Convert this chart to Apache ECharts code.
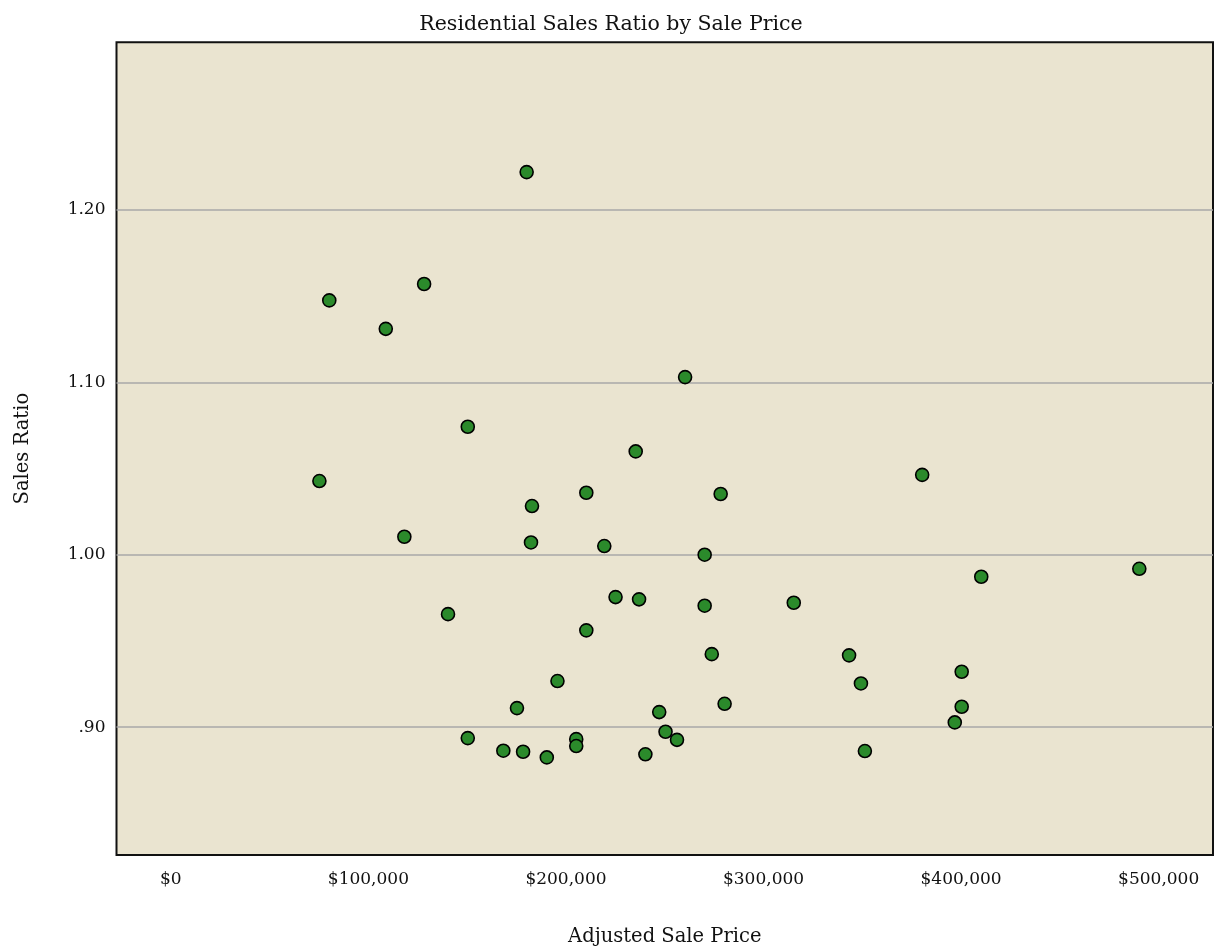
<!DOCTYPE html>
<html>
<head>
<meta charset="utf-8">
<script src="https://cdn.jsdelivr.net/npm/echarts@6/dist/echarts.min.js"></script>
<style>html,body{margin:0;padding:0;background:#fff;}#c{width:1216px;height:952px;}</style>
</head>
<body>
<div id="c"></div>
<script>
// Adjusted sale price (dollars)
const salePrice = [75200, 80200, 108800, 118200, 128200, 140300, 150300, 150300, 168300, 175200,
  178300, 180100, 182300, 182800, 190300, 195700, 205200, 205200, 210300, 210300,
  219400, 225100, 235300, 237000, 240200, 247200, 250400, 256200, 260300, 270200,
  270200, 273800, 278300, 280300, 315300, 343300, 349300, 351300, 380300, 396800,
  400300, 400300, 410200, 490200];
// Sales ratio
const salesRatio = [1.0427, 1.1475, 1.1310, 1.0104, 1.1570, 0.9655, 1.0742, 0.8936, 0.8863, 0.9110,
  0.8857, 1.2219, 1.0071, 1.0282, 0.8824, 0.9267, 0.8930, 0.8890, 1.0359, 0.9561,
  1.0050, 0.9754, 1.0599, 0.9741, 0.8842, 0.9087, 0.8973, 0.8926, 1.1030, 1.0000,
  0.9704, 0.9423, 1.0352, 0.9135, 0.9721, 0.9416, 0.9253, 0.8861, 1.0463, 0.9027,
  0.9321, 0.9118, 0.9872, 0.9918];
const xTicks = [0, 100000, 200000, 300000, 400000, 500000];
const yTicks = [0.9, 1.0, 1.1, 1.2];
const titleText = 'Residential Sales Ratio by Sale Price';
const xName = 'Adjusted Sale Price';
const yName = 'Sales Ratio';

const points = salePrice.map((p, i) => [p, salesRatio[i]]);
const FONT = 'DejaVu Serif';

const chart = echarts.init(document.getElementById('c'), null, {renderer: 'canvas'});
chart.setOption({
  animation: false,
  backgroundColor: '#ffffff',
  title: {
    text: titleText, left: 606, top: 9, textAlign: 'center',
    textStyle: {fontFamily: FONT, fontSize: 20.5, fontWeight: 'normal', color: '#111'}
  },
  grid: {
    left: 116.5, right: 3, top: 42.3, bottom: 97,
    show: true, backgroundColor: '#eae4d0', borderColor: '#111', borderWidth: 2
  },
  xAxis: {
    type: 'value', min: -27500, max: 527500,
    name: xName, nameLocation: 'middle', nameGap: 72,
    nameTextStyle: {fontFamily: FONT, fontSize: 19.5, color: '#111'},
    axisLine: {show: false},
    axisTick: {show: false, customValues: xTicks},
    splitLine: {show: false},
    axisLabel: {
      customValues: xTicks, margin: 16,
      fontFamily: FONT, fontSize: 17, color: '#111',
      formatter: v => '$' + Math.round(v).toLocaleString('en-US')
    }
  },
  yAxis: {
    type: 'value', min: 0.8258, max: 1.2972,
    name: yName, nameLocation: 'middle', nameGap: 84, nameRotate: 90,
    nameTextStyle: {fontFamily: FONT, fontSize: 19.5, color: '#111'},
    axisLine: {show: false},
    axisTick: {show: false, customValues: yTicks},
    splitLine: {show: true, lineStyle: {color: '#a9a9a9', width: 1.5}},
    axisLabel: {
      customValues: yTicks, margin: 11,
      fontFamily: FONT, fontSize: 17, color: '#111',
      formatter: v => v.toFixed(2).replace(/^0/, '')
    }
  },
  series: [{
    type: 'scatter',
    data: points,
    symbol: 'circle',
    symbolSize: 13,
    itemStyle: {color: '#2b8a2b', borderColor: '#000', borderWidth: 1.6, opacity: 1}
  }]
});
</script>
</body>
</html>
